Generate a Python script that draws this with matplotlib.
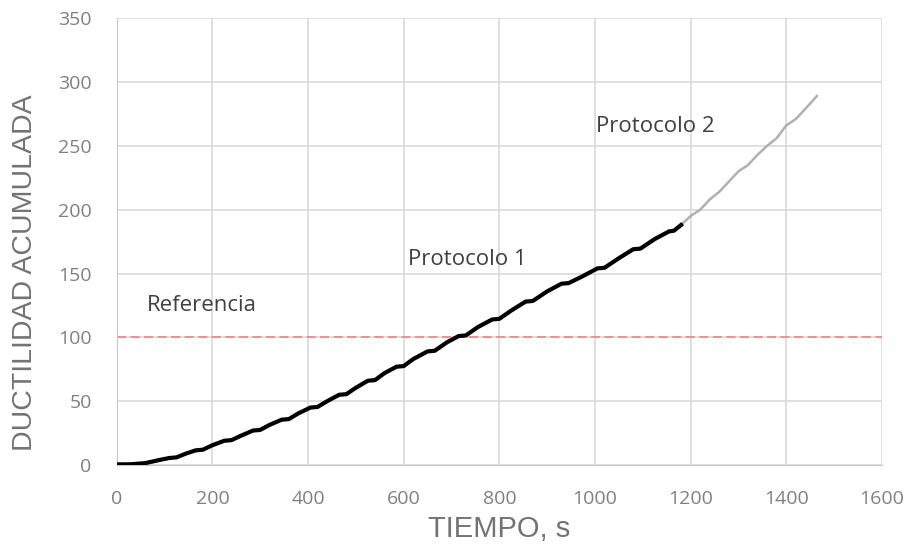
import matplotlib.pyplot as plt

# Protocolo 1 (tramo negro)
t1 = [0, 30, 60, 90, 110, 125, 145, 165, 180, 200, 225, 240, 260, 285, 300,
      320, 345, 360, 380, 405, 420, 440, 465, 480, 500, 525, 540, 560, 585,
      600, 620, 650, 665, 690, 715, 730, 755, 785, 800, 825, 855, 870, 900,
      930, 945, 975, 1005, 1020, 1050, 1080, 1095, 1125, 1155, 1165, 1180]
d1 = [0.5, 0.6, 1.5, 4, 5.5, 6, 9, 11.5, 12, 15.5, 19, 19.5, 23, 27, 27.5,
      31.5, 35.5, 36, 40.5, 45, 45.5, 50, 55, 55.5, 60.5, 66, 66.5, 72, 77,
      77.5, 83, 89, 89.5, 96, 101, 101.5, 108, 114, 114.5, 121, 128, 128.5, 136,
      142, 142.5, 148, 154, 154.5, 162, 169, 169.5, 177, 183, 183.5, 188]

# Protocolo 2 (tramo gris)
t2 = [1180, 1200, 1220, 1240, 1260, 1280, 1300, 1320, 1340, 1360,
      1380, 1400, 1420, 1440, 1464]
d2 = [188, 195, 200, 208, 214, 222, 230, 235, 243, 250,
      256, 266, 271, 279, 289]

referencia = 100

plt.rcParams['font.family'] = ['Liberation Sans', 'DejaVu Sans']

fig = plt.figure(figsize=(9.12, 5.5), dpi=100)
ax = fig.add_axes([0.128, 0.1545, 0.839, 0.8125])

ax.axhline(referencia, color='#ee8a8a', lw=1.3, ls=(0, (5, 2.5)), zorder=2)
ax.plot(t1, d1, color='black', lw=3.0, zorder=4)
ax.plot(t2, d2, color='#b0b0b0', lw=1.8, zorder=3)

ax.set_xlim(0, 1600)
ax.set_ylim(0, 350)
ax.set_xticks(range(0, 1601, 200))
ax.set_yticks(range(0, 351, 50))
ax.grid(True, color='#d9d9d9', lw=1.2)
ax.set_axisbelow(True)
for s in ['top', 'right']:
    ax.spines[s].set_visible(False)
for s in ['left', 'bottom']:
    ax.spines[s].set_color('#c8c8c8')
ax.tick_params(length=0, pad=18, labelsize=14, labelcolor='#808080')
for lbl in ax.get_xticklabels() + ax.get_yticklabels():
    lbl.set_family(['Open Sans', 'DejaVu Sans'])

ax.set_xlabel('TIEMPO, s', fontsize=21, color='#737373', labelpad=5)
ax.set_ylabel('DUCTILIDAD ACUMULADA', fontsize=20.5, color='#737373')
ax.yaxis.set_label_coords(-0.103, 0.43)

notas = [(63, 125, 'Referencia'), (609, 161, 'Protocolo 1'), (1002, 265, 'Protocolo 2')]
for x, y, s in notas:
    ax.text(x, y, s, fontsize=16, color='#404040', va='center',
            family=['Open Sans', 'DejaVu Sans'])

fig.savefig('out.png', dpi=100)
